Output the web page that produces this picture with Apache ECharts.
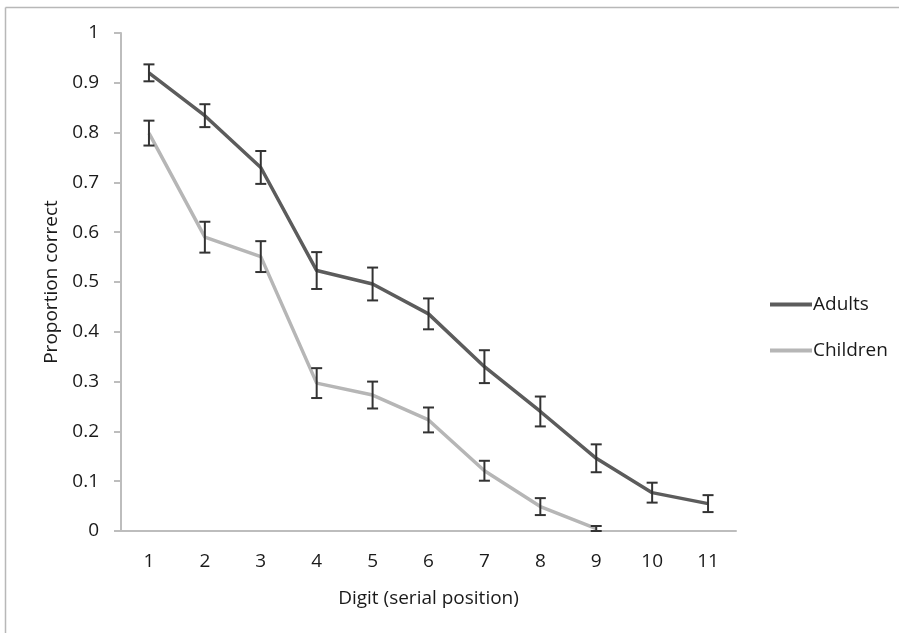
<!DOCTYPE html>
<html>
<head>
<meta charset="utf-8">
<script src="https://cdn.jsdelivr.net/npm/echarts@6/dist/echarts.min.js"></script>
<style>
  html, body { margin: 0; padding: 0; background: #fff; }
  #chart { width: 899px; height: 633px; }
</style>
</head>
<body>
<div id="chart"></div>
<script>
// Serial position recall: proportion correct per digit, with standard-error bars
const digits = ['1', '2', '3', '4', '5', '6', '7', '8', '9', '10', '11'];
const yTicks = [0, 0.1, 0.2, 0.3, 0.4, 0.5, 0.6, 0.7, 0.8, 0.9, 1];

const adults      = [0.92, 0.834, 0.73, 0.523, 0.496, 0.436, 0.33, 0.24, 0.146, 0.077, 0.055];
const adultsErr   = [0.017, 0.023, 0.033, 0.037, 0.033, 0.031, 0.033, 0.03, 0.028, 0.02, 0.017];
const children    = [0.799, 0.59, 0.551, 0.297, 0.273, 0.223, 0.121, 0.049, 0.005];
const childrenErr = [0.025, 0.031, 0.031, 0.03, 0.027, 0.025, 0.02, 0.017, 0.005];

const textColor = '#1a1a1a';
const fontFamily = '"Open Sans", Lato, sans-serif';
const fontSize = 19;

function barData(values, errs) {
  return values.map((v, i) => [i, v - errs[i], v + errs[i]]);
}

function renderErrorBar(params, api) {
  const idx = api.value(0);
  const top = api.coord([idx, api.value(2)]);
  const bottom = api.coord([idx, api.value(1)]);
  const half = 5.5;
  const style = { stroke: '#333333', lineWidth: 2 };
  return {
    type: 'group',
    children: [
      { type: 'line', shape: { x1: top[0], y1: top[1], x2: bottom[0], y2: bottom[1] }, style },
      { type: 'line', shape: { x1: top[0] - half, y1: top[1], x2: top[0] + half, y2: top[1] }, style },
      { type: 'line', shape: { x1: bottom[0] - half, y1: bottom[1], x2: bottom[0] + half, y2: bottom[1] }, style }
    ]
  };
}

const chart = echarts.init(document.getElementById('chart'), null, { renderer: 'canvas' });

chart.setOption({
  backgroundColor: '#fff',
  animation: false,
  textStyle: { fontFamily, color: textColor },
  graphic: [
    { type: 'line', shape: { x1: 5.5, y1: 7.5, x2: 899, y2: 7.5 }, style: { stroke: '#b8b8b8', lineWidth: 1.5 } },
    { type: 'line', shape: { x1: 5.5, y1: 7.5, x2: 5.5, y2: 633 }, style: { stroke: '#b8b8b8', lineWidth: 1.5 } }
  ],
  grid: { left: 121, right: 163, top: 33, bottom: 102 },
  legend: {
    orient: 'vertical',
    left: 765,
    top: 290,
    itemGap: 27,
    itemWidth: 42,
    itemHeight: 4,
    icon: 'rect',
    textStyle: { fontFamily, fontSize, color: textColor, padding: [0, 0, 0, -4] },
    data: ['Adults', 'Children']
  },
  xAxis: {
    type: 'category',
    data: digits,
    boundaryGap: true,
    name: 'Digit (serial position)',
    nameLocation: 'middle',
    nameGap: 58,
    nameTextStyle: { fontFamily, fontSize, color: textColor },
    axisLine: { lineStyle: { color: '#bdbdbd', width: 2 } },
    axisTick: { show: false },
    axisLabel: { fontFamily, fontSize, color: textColor, margin: 21 },
    splitLine: { show: false }
  },
  yAxis: {
    type: 'value',
    min: yTicks[0],
    max: yTicks[yTicks.length - 1],
    interval: 0.1,
    name: 'Proportion correct',
    nameLocation: 'middle',
    nameGap: 60,
    nameTextStyle: { fontFamily, fontSize, color: textColor },
    axisLine: { show: true, lineStyle: { color: '#bdbdbd', width: 2 } },
    axisTick: { show: true, length: 7, lineStyle: { color: '#bdbdbd', width: 2 } },
    axisLabel: {
      fontFamily, fontSize, color: textColor, margin: 22,
      formatter: v => String(Math.round(v * 10) / 10)
    },
    splitLine: { show: false }
  },
  series: [
    {
      name: 'Adults',
      type: 'line',
      data: adults,
      symbol: 'none',
      lineStyle: { color: '#5c5c5c', width: 3.5 },
      itemStyle: { color: '#5c5c5c' },
      z: 2
    },
    {
      name: 'Children',
      type: 'line',
      data: children,
      symbol: 'none',
      lineStyle: { color: '#b6b6b6', width: 3.5 },
      itemStyle: { color: '#b6b6b6' },
      z: 2
    },
    {
      name: 'Adults error',
      type: 'custom',
      data: barData(adults, adultsErr),
      encode: { x: 0, y: [1, 2] },
      renderItem: renderErrorBar,
      z: 3
    },
    {
      name: 'Children error',
      type: 'custom',
      data: barData(children, childrenErr),
      encode: { x: 0, y: [1, 2] },
      renderItem: renderErrorBar,
      z: 3
    }
  ]
});
</script>
</body>
</html>
